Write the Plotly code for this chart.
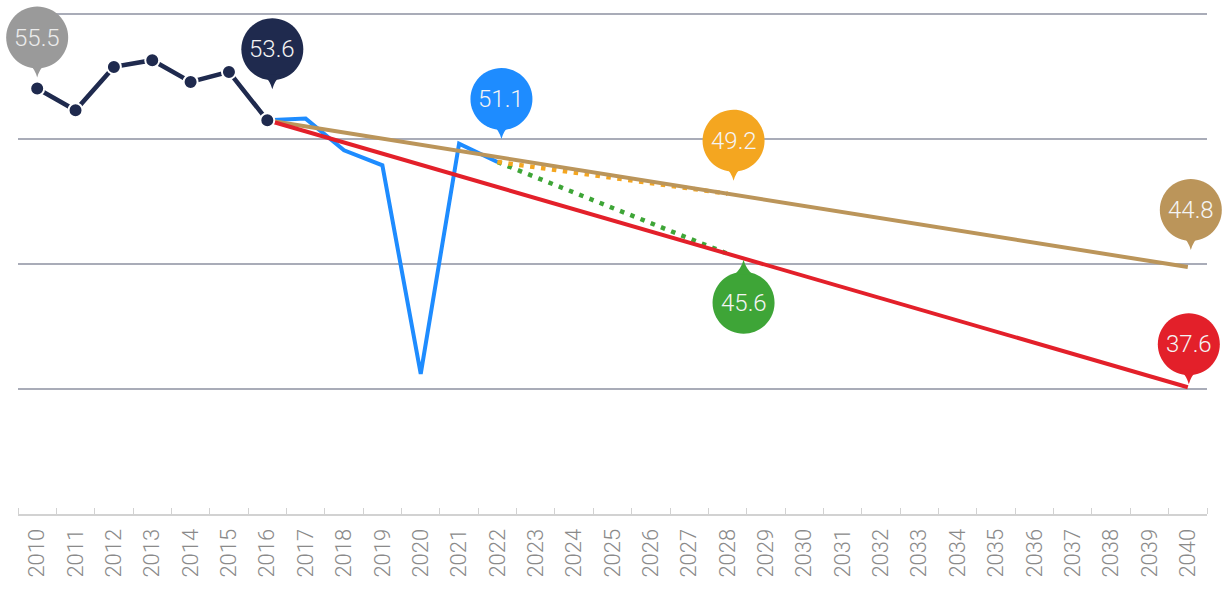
import plotly.graph_objects as go

# historic series (navy with dots)
hist_years = [2010, 2011, 2012, 2013, 2014, 2015, 2016]
hist_vals = [55.5, 54.2, 56.8, 57.2, 55.9, 56.5, 53.6]

# recent actuals (blue)
blue_years = [2016, 2017, 2018, 2019, 2020, 2021, 2022]
blue_vals = [53.6, 53.7, 51.8, 50.9, 38.4, 52.2, 51.1]

# projections
tan_years = [2016, 2040]
tan_vals = [53.6, 44.8]
red_years = [2016, 2040]
red_vals = [53.6, 37.6]
orange_years = [2022, 2028]
orange_vals = [51.1, 49.2]
green_years = [2022, 2028]
green_vals = [51.1, 45.6]

years = list(range(2010, 2041))

NAVY = "#1f2a4e"
GREY = "#9a9a9a"
BLUE = "#1e8cff"
ORANGE = "#f4a620"
GREEN = "#3ea537"
TAN = "#bb955a"
RED = "#e3202a"

W, H = 1225, 592
# plot box in pixels
L, R, T, B = 18, 1207, 8.5, 514
x_lo, x_hi = 2009.5, 2040.5
y_lo, y_hi = 30, 60.3

fig = go.Figure()

fig.add_trace(go.Scatter(x=blue_years, y=blue_vals, mode="lines",
                         line=dict(color=BLUE, width=4)))
fig.add_trace(go.Scatter(x=green_years, y=green_vals, mode="lines",
                         line=dict(color=GREEN, width=4.5, dash="4.5px,6.5px")))
fig.add_trace(go.Scatter(x=orange_years, y=orange_vals, mode="lines",
                         line=dict(color=ORANGE, width=4.5, dash="4.5px,6.5px")))
fig.add_trace(go.Scatter(x=tan_years, y=tan_vals, mode="lines",
                         line=dict(color=TAN, width=4)))
fig.add_trace(go.Scatter(x=red_years, y=red_vals, mode="lines",
                         line=dict(color=RED, width=4)))
fig.add_trace(go.Scatter(x=hist_years, y=hist_vals, mode="lines+markers",
                         line=dict(color=NAVY, width=4.5),
                         marker=dict(size=14, color=NAVY, line=dict(color="white", width=2))))

# invisible full-page axes aligned with the main ones, so bubbles are not clipped
fig.add_trace(go.Scatter(x=[x_lo], y=[y_lo], xaxis="x2", yaxis="y2",
                         mode="markers", marker=dict(opacity=0), hoverinfo="skip"))


def circle_path(cx, cy, r):
    k = 0.5523 * r
    return (f"M {cx+r},{cy} C {cx+r},{cy+k} {cx+k},{cy+r} {cx},{cy+r} "
            f"C {cx-k},{cy+r} {cx-r},{cy+k} {cx-r},{cy} "
            f"C {cx-r},{cy-k} {cx-k},{cy-r} {cx},{cy-r} "
            f"C {cx+k},{cy-r} {cx+r},{cy-k} {cx+r},{cy} Z")


def bubble(x, y, color, gap, dx=0, up=True, txtcolor="#f4f4f4", r=31, dist=40):
    s = 1 if up else -1
    tip = s * gap
    cy = tip + s * dist
    tail = (f"M {dx-9},{tip+s*15} Q {dx-2},{tip+s*8} {dx},{tip} "
            f"Q {dx+2},{tip+s*8} {dx+9},{tip+s*15} Z")
    for p in (circle_path(dx, cy, r), tail):
        fig.add_shape(type="path", path=p, xref="x2", yref="y2",
                      xsizemode="pixel", ysizemode="pixel",
                      xanchor=x, yanchor=y, fillcolor=color,
                      line=dict(width=0), layer="above")
    fig.add_annotation(x=x, y=y, xref="x2", yref="y2", xshift=dx, yshift=cy,
                       text=f"{y:.1f}", showarrow=False,
                       font=dict(family="Roboto", size=24, color=txtcolor, weight=300))


bubble(hist_years[0], hist_vals[0], GREY, 11, txtcolor="#ececec")
bubble(hist_years[-1], hist_vals[-1], NAVY, 31, dx=5)
bubble(blue_years[-1], blue_vals[-1], BLUE, 23, dx=4)
bubble(orange_years[-1], orange_vals[-1], ORANGE, 13, dx=6)
bubble(green_years[-1], green_vals[-1], GREEN, 6, dx=16, up=False, dist=43)
bubble(tan_years[-1], tan_vals[-1], TAN, 17, dx=3)
bubble(red_years[-1], red_vals[-1], RED, 3, dx=1)

xs = (x_hi - x_lo) / (R - L)
ys = (y_hi - y_lo) / (B - T)

fig.update_layout(
    width=W, height=H,
    margin=dict(l=0, r=0, t=0, b=0),
    paper_bgcolor="white", plot_bgcolor="rgba(0,0,0,0)",
    showlegend=False,
    xaxis=dict(
        domain=[L / W, R / W], anchor="y",
        range=[x_lo, x_hi], tickvals=years, ticktext=[str(v) for v in years],
        tickangle=-90, ticks="", showgrid=False, zeroline=False,
        showline=True, linecolor="#d2d2d2", linewidth=2,
        tickfont=dict(family="Roboto", size=22, color="#8a8a8a", weight=300),
        ticklabelstandoff=4,
        minor=dict(tick0=2009.5, dtick=1, ticks="inside", ticklen=6,
                   tickcolor="#d2d2d2", tickwidth=1, showgrid=False),
    ),
    yaxis=dict(
        domain=[1 - B / H, 1 - T / H], anchor="x",
        range=[y_lo, y_hi], tickvals=[37.5, 45, 52.5, 60], showticklabels=False,
        showgrid=True, gridcolor="#a9acb8", gridwidth=2, zeroline=False,
    ),
    xaxis2=dict(domain=[0, 1], anchor="y2", visible=False,
                range=[x_lo - L * xs, x_hi + (W - R) * xs]),
    yaxis2=dict(domain=[0, 1], anchor="x2", visible=False,
                range=[y_lo - (H - B) * ys, y_hi + T * ys]),
)

fig.write_html("out.html", config={"displayModeBar": False},
               post_script="document.body.style.margin='0';")
